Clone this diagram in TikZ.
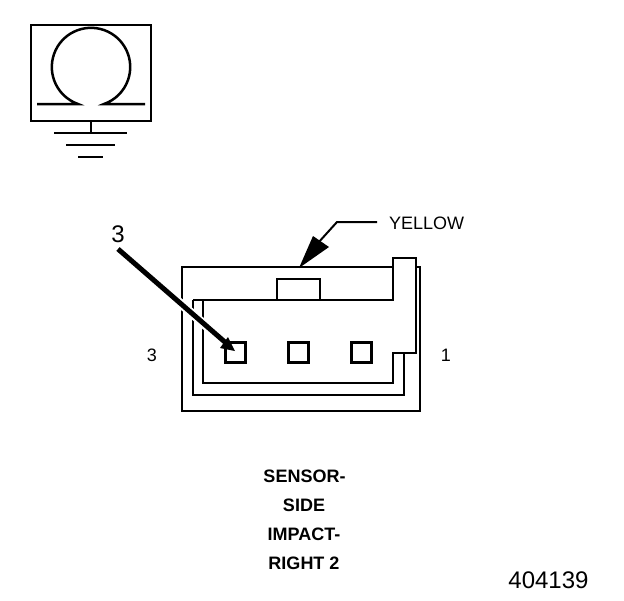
\documentclass[tikz,border=0pt]{standalone}
\usepackage{fontspec}
\setmainfont{Liberation Sans}
\tikzset{
  ln/.style={draw=black,line width=2.5pt,line join=miter},
  pin/.style={draw=black,line width=2.2pt,fill=white,minimum size=20pt,inner sep=0pt,rectangle},
  lbl/.style={inner sep=0pt,font=\fontsize{18}{18}\selectfont},
  blbl/.style={inner sep=0pt,font=\fontsize{18}{18}\selectfont\bfseries},
  big/.style={inner sep=0pt,font=\fontsize{24}{24}\selectfont},
}
\begin{document}
\begin{tikzpicture}[x=1pt,y=-1pt]
\useasboundingbox (0,0) rectangle (624,600);
% Symbol
\draw[ln] (31,25) rectangle (151,121);
\draw[ln] (37,104) -- (78,104) arc[start angle=109.4,end angle=430.6,radius=39.2] -- (145,104);
\draw[ln] (91,121) -- (91,133);
\draw[ln] (54,133) -- (127,133);
\draw[ln] (66,145) -- (115,145);
\draw[ln] (78,157) -- (103,157);
% Connector
\draw[ln] (416,267) -- (420,267) -- (420,411) -- (182,411) -- (182,267) -- (393,267);
\draw[ln] (404,353) -- (404,395) -- (193,395) -- (193,300);
\draw[ln] (203,300) -- (203,383) -- (393,383) -- (393,353) -- (416,353) -- (416,258) -- (393,258) -- (393,300) -- (193,300);
\draw[ln] (277,300) -- (277,279) -- (320,279) -- (320,300);
\node[pin] (p1) at (235.5,352.5) {};
\node[pin] (p2) at (298.5,352.5) {};
\node[pin] (p3) at (361.5,352.5) {};
% Labels
\node[big] (n3) at (118,234) {3};
\coordinate (a3) at (118,249);
\coordinate (h3) at (235,351);
\draw[white,line width=9pt] (155,281) -- (222,340);
\draw[black,line width=5pt] (a3) -- (226,343);
\fill[black] (h3) -- (220,348) -- (228,337) -- cycle;
\coordinate (y0) at (377,222);
\coordinate (y1) at (337,222);
\draw[black,line width=2pt] (y0) -- (y1) -- (318,243);
\coordinate (yt) at (299,268);
\fill[black] (yt) -- (313,236) -- (329,247) -- cycle;
\node[lbl,anchor=west] (yel) at (389,223) {YELLOW};
\node[lbl] (l3) at (152,355) {3};
\node[lbl] (l1) at (446,355) {1};
\node[blbl] (t1) at (304.5,476) {SENSOR-};
\node[blbl] (t2) at (304,505) {SIDE};
\node[blbl] (t3) at (304,534) {IMPACT-};
\node[blbl] (t4) at (304,563) {RIGHT 2};
\node[big] (num) at (548.5,580) {404139};
\end{tikzpicture}
\end{document}
